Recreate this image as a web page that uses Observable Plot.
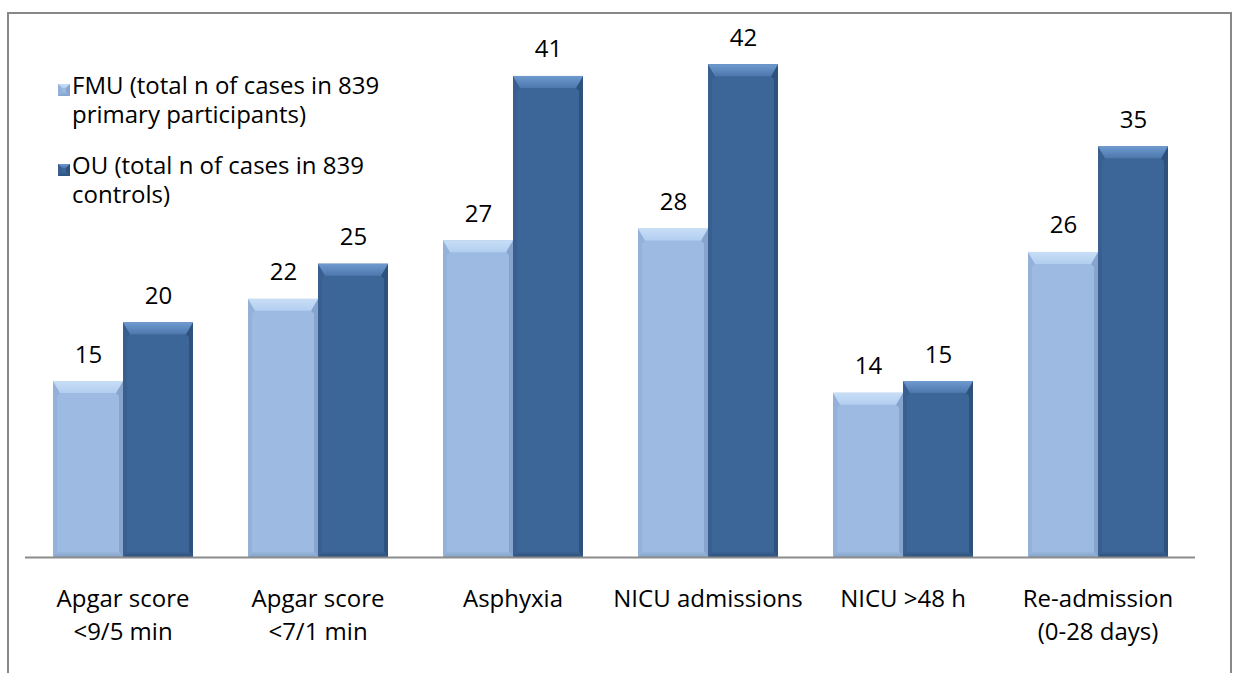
<!DOCTYPE html>
<html>
<head>
<meta charset="utf-8">
<script src="https://cdn.jsdelivr.net/npm/d3@7"></script>
<script src="https://cdn.jsdelivr.net/npm/@observablehq/plot@0.6"></script>
<style>
  html, body { margin: 0; padding: 0; background: #fff; }
  #wrap { position: relative; width: 1238px; height: 673px; overflow: hidden; font-family: "Open Sans", sans-serif; }
  #border { position: absolute; left: 7px; top: 12px; width: 1225px; height: 720px; border: 2px solid #888; box-sizing: border-box; pointer-events: none; }
  #chart { position: absolute; left: 0; top: 0; }
  #legend { position: absolute; left: 58px; top: 70px; font-size: 24px; line-height: 29px; color: #000; }
  .item { position: relative; padding-left: 14px; white-space: pre-line; margin-bottom: 22px; }
  .item svg { position: absolute; left: 0; top: 14px; }
</style>
</head>
<body>
<svg width="0" height="0" style="position:absolute">
  <defs>
    <linearGradient id="capFMU" x1="0" y1="0" x2="0" y2="1">
      <stop offset="0" stop-color="#c8def6"/>
      <stop offset="1" stop-color="#b2cef0"/>
    </linearGradient>
    <linearGradient id="capOU" x1="0" y1="0" x2="0" y2="1">
      <stop offset="0" stop-color="#6f9ad0"/>
      <stop offset="1" stop-color="#4c78ae"/>
    </linearGradient>
    <linearGradient id="botFMU" x1="0" y1="0" x2="0" y2="1">
      <stop offset="0" stop-color="#98b5dc"/>
      <stop offset="1" stop-color="#86a3ca"/>
    </linearGradient>
    <linearGradient id="botOU" x1="0" y1="0" x2="0" y2="1">
      <stop offset="0" stop-color="#3a6293"/>
      <stop offset="1" stop-color="#2e517d"/>
    </linearGradient>
  </defs>
</svg>
<div id="wrap">
  <div id="chart"></div>
  <div id="legend"></div>
  <div id="border"></div>
</div>
<script>
// Outcome categories (axis labels, "\n" breaks a label over two lines)
const categories = [
  "Apgar score\n<9/5 min",
  "Apgar score\n<7/1 min",
  "Asphyxia",
  "NICU admissions",
  "NICU >48 h",
  "Re-admission\n(0-28 days)"
];
// Series keys and legend labels
const seriesKeys = ["FMU", "OU"];
const seriesLabels = [
  "FMU (total n of cases in 839\nprimary participants)",
  "OU (total n of cases in 839\ncontrols)"
];
// Number of cases per category
const fmuValues = [15, 22, 27, 28, 14, 26];
const ouValues = [20, 25, 41, 42, 15, 35];

// Colours for each series: face, edges and gradient ids for the bevel
const palettes = {
  FMU: { face: "#9dbbe2", left: "#93b1d9", right: "#87a5cc", cap: "url(#capFMU)", bottom: "url(#botFMU)" },
  OU:  { face: "#3d6698", left: "#385f90", right: "#2f527d", cap: "url(#capOU)",  bottom: "url(#botOU)" }
};

const rows = categories.flatMap((c, i) => [
  { category: c, series: "FMU", value: fmuValues[i] },
  { category: c, series: "OU", value: ouValues[i] }
]);

const NS = "http://www.w3.org/2000/svg";
function poly(parent, pts, fill) {
  const p = document.createElementNS(NS, "polygon");
  p.setAttribute("points", pts.map(d => d.join(",")).join(" "));
  p.setAttribute("fill", fill);
  parent.appendChild(p);
}

// A bar mark whose rectangles get a bevelled top, sides and bottom
function bevelBars(key) {
  const pal = palettes[key];
  return Plot.barY(rows.filter(d => d.series === key), {
    fx: "category", x: "series", y: "value", fill: pal.face,
    render(index, scales, values, dimensions, context, next) {
      const g = next(index, scales, values, dimensions, context);
      for (const r of Array.from(g.querySelectorAll("rect"))) {
        const x = +r.getAttribute("x"), y = +r.getAttribute("y");
        const w = +r.getAttribute("width"), h = +r.getAttribute("height");
        const t = 12, c = 7, s = 4, b = 5, par = r.parentNode;
        poly(par, [[x, y], [x + c, y + t], [x + s, y + t + 3], [x + s, y + h - b], [x, y + h]], pal.left);
        poly(par, [[x + w, y], [x + w - c, y + t], [x + w - s, y + t + 3], [x + w - s, y + h - b], [x + w, y + h]], pal.right);
        poly(par, [[x, y + h], [x + s, y + h - b], [x + w - s, y + h - b], [x + w, y + h]], pal.bottom);
        poly(par, [[x, y], [x + w, y], [x + w - c, y + t], [x + c, y + t]], pal.cap);
      }
      return g;
    }
  });
}

const chart = Plot.plot({
  width: 1238,
  height: 673,
  marginLeft: 25,
  marginRight: 43,
  marginTop: 29,
  marginBottom: 116,
  style: { fontFamily: "'Open Sans', sans-serif", fontSize: "24px", color: "#000", background: "transparent" },
  fx: { domain: categories, padding: 0, label: null },
  x: { domain: seriesKeys, paddingInner: 0, paddingOuter: 0.383, axis: null },
  y: { domain: [0, 45], axis: null },
  marks: [
    bevelBars("FMU"),
    bevelBars("OU"),
    Plot.ruleY([0], { stroke: "#8c8c8c", strokeWidth: 2 }),
    Plot.text(rows, {
      fx: "category", x: "series", y: "value",
      text: d => String(d.value),
      lineAnchor: "bottom", dy: -19, fontSize: 24, fill: "#000"
    }),
    Plot.axisFx({ anchor: "bottom", tickSize: 0, tickPadding: 26, fontSize: 24, lineHeight: 1.375, label: null, fill: "#000" })
  ]
});
document.getElementById("chart").appendChild(chart);

// Legend with small bevelled swatches
const legend = document.getElementById("legend");
seriesKeys.forEach((k, i) => {
  const pal = palettes[k];
  const item = document.createElement("div");
  item.className = "item";
  item.textContent = seriesLabels[i];
  const sw = document.createElementNS(NS, "svg");
  sw.setAttribute("width", 12);
  sw.setAttribute("height", 12);
  poly(sw, [[0, 0], [12, 0], [12, 12], [0, 12]], pal.face);
  poly(sw, [[0, 0], [12, 0], [8, 4], [4, 4]], pal.cap);
  poly(sw, [[0, 0], [4, 4], [4, 8], [0, 12]], pal.left);
  poly(sw, [[12, 0], [8, 4], [8, 8], [12, 12]], pal.right);
  poly(sw, [[0, 12], [4, 8], [8, 8], [12, 12]], pal.bottom);
  item.appendChild(sw);
  legend.appendChild(item);
});
</script>
</body>
</html>
